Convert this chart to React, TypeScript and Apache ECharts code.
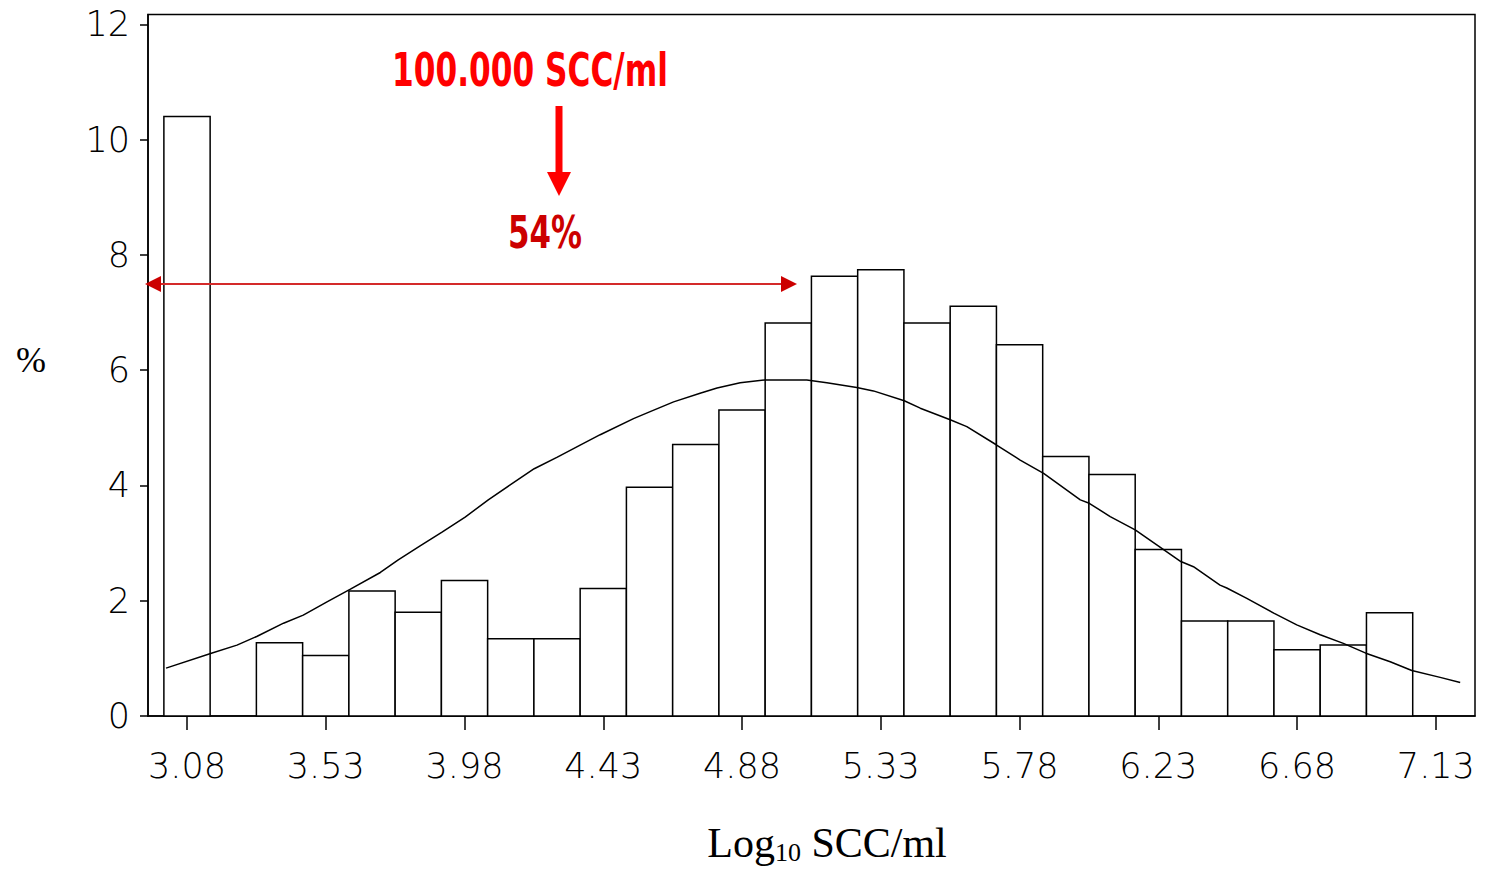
import React, { useEffect, useRef } from "react";
import * as echarts from "echarts";

// Histogram bins (Log10 SCC/ml bin centers) and percentages
const binCenters = [
  3.08, 3.23, 3.38, 3.53, 3.68, 3.83, 3.98, 4.13, 4.28, 4.43, 4.58, 4.73, 4.88, 5.03,
  5.18, 5.33, 5.48, 5.63, 5.78, 5.93, 6.08, 6.23, 6.38, 6.53, 6.68, 6.83, 6.98,
];
const binPercents = [
  10.4, 0, 1.27, 1.05, 2.17, 1.8, 2.35, 1.34, 1.34, 2.21, 3.97, 4.71, 5.31, 6.82,
  7.63, 7.74, 6.82, 7.11, 6.44, 4.5, 4.19, 2.89, 1.65, 1.65, 1.15, 1.23, 1.79,
];
const binWidth = 0.15;

// Fitted curve
const curveX = [
  3.012, 3.159, 3.242, 3.306, 3.393, 3.457, 3.534, 3.61, 3.707, 3.765, 3.836, 3.907, 3.982,
  4.057, 4.128, 4.206, 4.281, 4.355, 4.42, 4.528, 4.582, 4.658, 4.744, 4.799, 4.874, 4.953,
  5.09, 5.155, 5.252, 5.306, 5.406, 5.458, 5.555, 5.609, 5.703, 5.782, 5.858, 5.977, 6.006,
  6.074, 6.155, 6.225, 6.303, 6.344, 6.43, 6.452, 6.517, 6.606, 6.679, 6.755, 6.83, 6.903,
  6.982, 7.052, 7.144, 7.209,
];
const curveY = [
  0.83, 1.09, 1.23, 1.38, 1.61, 1.75, 1.98, 2.2, 2.49, 2.71, 2.95, 3.19, 3.45,
  3.75, 4.01, 4.29, 4.49, 4.7, 4.88, 5.16, 5.28, 5.45, 5.6, 5.69, 5.78, 5.83,
  5.83, 5.78, 5.7, 5.64, 5.47, 5.34, 5.14, 5.02, 4.71, 4.44, 4.21, 3.75, 3.69,
  3.46, 3.23, 2.97, 2.68, 2.59, 2.27, 2.22, 2.04, 1.78, 1.58, 1.41, 1.26, 1.09,
  0.94, 0.79, 0.67, 0.58,
];

const xTicks = [3.08, 3.53, 3.98, 4.43, 4.88, 5.33, 5.78, 6.23, 6.68, 7.13];
const yTicks = [0, 2, 4, 6, 8, 10, 12];

const X_MIN = 2.9535;
const X_MAX = 7.257;
const Y_MAX = 12.17;

const xTitleMain = "Log";
const xTitleSub = "10";
const xTitleRest = " SCC/ml";
const yTitle = "%";
const annoTop = "100.000 SCC/ml";
const annoPct = "54%";

function measure(text: string, font: string): number {
  const c = document.createElement("canvas").getContext("2d");
  if (!c) return text.length * 20;
  c.font = font;
  return c.measureText(text).width;
}

export default function App() {
  const ref = useRef<HTMLDivElement>(null);

  useEffect(() => {
    if (!ref.current) return;
    const chart = echarts.init(ref.current, null, { renderer: "svg" });

    const tickFont = {
      fontFamily: "'DejaVu Sans', sans-serif",
      fontWeight: 200 as any,
      fontSize: 35,
      color: "#000",
    };

    const serifMain = "42px 'Liberation Serif', 'Times New Roman', serif";
    const serifSub = "26px 'Liberation Serif', 'Times New Roman', serif";
    const wMain = measure(xTitleMain, serifMain);
    const wSub = measure(xTitleSub, serifSub);
    const wRest = measure(xTitleRest, serifMain);
    const total = wMain + wSub + wRest;
    const titleCx = 827;
    const tx0 = titleCx - total / 2;

    const redFont = "bold 47px 'Liberation Sans Narrow', 'DejaVu Sans Condensed', 'DejaVu Sans', sans-serif";
    const pctFont = "bold 44px 'Liberation Sans Narrow', 'DejaVu Sans Condensed', 'DejaVu Sans', sans-serif";
    const wTop = measure(annoTop, redFont);
    const wPct = measure(annoPct, pctFont);
    const scaleTop = Math.min(1, 276 / wTop);
    const scalePct = Math.min(1, 74 / wPct);

    chart.setOption({
      animation: false,
      backgroundColor: "#fff",
      grid: {
        left: 148,
        right: 10,
        top: 14.5,
        bottom: 153,
        show: true,
        borderColor: "#000",
        borderWidth: 1.5,
        backgroundColor: "transparent",
      },
      xAxis: {
        type: "value",
        min: X_MIN,
        max: X_MAX,
        axisLine: { show: true, lineStyle: { color: "#000", width: 1.5 } },
        splitLine: { show: false },
        axisTick: {
          show: true,
          customValues: xTicks,
          length: 14,
          lineStyle: { color: "#000", width: 1.5 },
        },
        axisLabel: {
          ...tickFont,
          customValues: xTicks,
          margin: 32,
          formatter: (v: number) => v.toFixed(2),
        },
      },
      yAxis: {
        type: "value",
        min: 0,
        max: Y_MAX,
        axisLine: { show: true, lineStyle: { color: "#000", width: 1.5 } },
        splitLine: { show: false },
        axisTick: {
          show: true,
          customValues: yTicks,
          length: 8,
          lineStyle: { color: "#000", width: 1.5 },
        },
        axisLabel: {
          ...tickFont,
          customValues: yTicks,
          margin: 18,
          formatter: (v: number) => String(v),
        },
      },
      series: [
        {
          type: "custom",
          z: 2,
          encode: { x: 0, y: 1 },
          data: binCenters.map((c, i) => [c, binPercents[i]]),
          renderItem: (params: any, api: any) => {
            const c = api.value(0);
            const v = api.value(1);
            if (!v) return { type: "group", children: [] };
            const p0 = api.coord([c - binWidth / 2, v]);
            const p1 = api.coord([c + binWidth / 2, 0]);
            return {
              type: "rect",
              shape: { x: p0[0], y: p0[1], width: p1[0] - p0[0], height: p1[1] - p0[1] },
              style: { fill: "#fff", stroke: "#000", lineWidth: 1.5 },
            };
          },
        },
        {
          type: "line",
          z: 3,
          data: curveX.map((x, i) => [x, curveY[i]]),
          showSymbol: false,
          symbol: "none",
          smooth: false,
          lineStyle: { color: "#000", width: 1.5 },
        },
      ],
      graphic: [
        {
          type: "text",
          x: 31,
          y: 360,
          style: {
            text: yTitle,
            font: "36px 'Liberation Serif', 'Times New Roman', serif",
            fill: "#000",
            align: "center",
            verticalAlign: "middle",
          },
        },
        {
          type: "text",
          x: tx0,
          y: 843,
          style: { text: xTitleMain, font: serifMain, fill: "#000", align: "left", verticalAlign: "middle" },
        },
        {
          type: "text",
          x: tx0 + wMain,
          y: 852,
          style: { text: xTitleSub, font: serifSub, fill: "#000", align: "left", verticalAlign: "middle" },
        },
        {
          type: "text",
          x: tx0 + wMain + wSub,
          y: 843,
          style: { text: xTitleRest, font: serifMain, fill: "#000", align: "left", verticalAlign: "middle" },
        },
        {
          type: "text",
          x: 530,
          y: 70,
          z: 10,
          scaleX: scaleTop,
          style: { text: annoTop, font: redFont, fill: "#ff0000", align: "center", verticalAlign: "middle" },
        },
        {
          type: "text",
          x: 545,
          y: 232,
          z: 10,
          scaleX: scalePct,
          style: { text: annoPct, font: pctFont, fill: "#cc0000", align: "center", verticalAlign: "middle" },
        },
        {
          type: "rect",
          z: 10,
          shape: { x: 555.5, y: 106, width: 7, height: 68 },
          style: { fill: "#ff0000" },
        },
        {
          type: "polygon",
          z: 10,
          shape: { points: [[547, 172], [571, 172], [559, 196]] },
          style: { fill: "#ff0000" },
        },
        {
          type: "line",
          z: 10,
          shape: { x1: 158, y1: 284, x2: 784, y2: 284 },
          style: { stroke: "#d42a2a", lineWidth: 2 },
        },
        {
          type: "polygon",
          z: 10,
          shape: { points: [[145, 284], [161, 276], [161, 292]] },
          style: { fill: "#cc0000" },
        },
        {
          type: "polygon",
          z: 10,
          shape: { points: [[797, 284], [781, 276], [781, 292]] },
          style: { fill: "#cc0000" },
        },
      ],
    });

    return () => chart.dispose();
  }, []);

  return (
    <div
      ref={ref}
      style={{ position: "fixed", left: 0, top: 0, width: 1485, height: 869, background: "#fff" }}
    />
  );
}
